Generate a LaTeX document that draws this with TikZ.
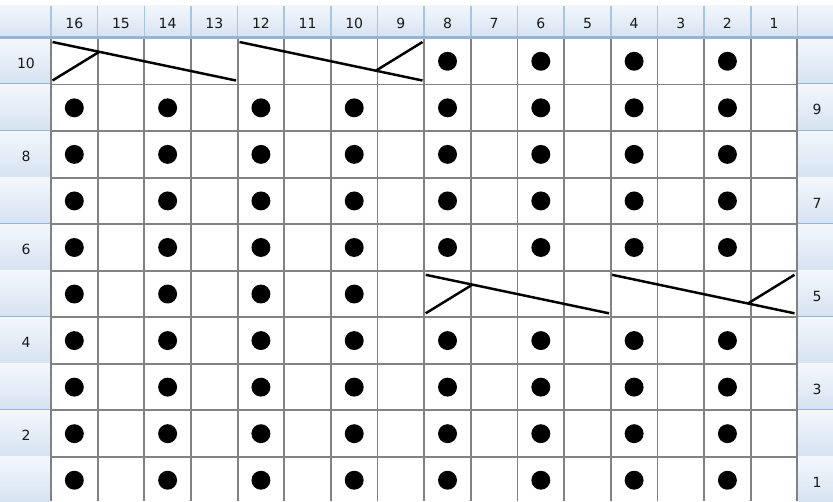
\documentclass[tikz,border=0pt]{standalone}
\usepackage{fontspec}
\setmainfont{DejaVu Sans}
\usetikzlibrary{calc}
\definecolor{gridgray}{HTML}{828282}
\definecolor{hdrtop}{HTML}{F3F7FC}
\definecolor{hdrbot}{HTML}{D6E2F1}
\definecolor{hdrsep}{HTML}{A9C4E2}
\definecolor{hdrline}{HTML}{94B4D8}
\definecolor{lbltext}{HTML}{1A1A1A}
\begin{document}
\begin{tikzpicture}[x=0.75pt,y=-0.75pt,
  gridline/.style={gridgray,line width=1.4pt},
  hdrsepline/.style={hdrsep,line width=1.2pt},
  hdrbottom/.style={hdrline,line width=1.6pt},
  hdrcell/.style={top color=hdrtop,bottom color=hdrbot,draw=none},
  lbl/.style={font=\fontsize{10.5}{12}\selectfont,text=lbltext,inner sep=0pt},
  stitchdot/.style={circle,fill=black,inner sep=0pt,minimum size=14.2pt},
  cable/.style={black,line width=1.85pt}]
\useasboundingbox (0,0) rectangle (833,501);
\def\cw{46.65}
\def\rh{46.55}
% header row
\shade[hdrcell] (0,5) rectangle (833,38);
\foreach \k in {0,...,16}{
  \draw[hdrsepline] ({51+\k*\cw},6) -- ({51+\k*\cw},38);
}
% side header cells
\foreach \r in {0,...,9}{
  \shade[hdrcell] (0,{38+\r*\rh}) rectangle (50,{38+(\r+1)*\rh});
  \shade[hdrcell] (798,{38+\r*\rh}) rectangle (833,{38+(\r+1)*\rh});
  \draw[hdrbottom] (0,{38+(\r+1)*\rh}) -- (50,{38+(\r+1)*\rh});
  \draw[hdrbottom] (798,{38+(\r+1)*\rh}) -- (833,{38+(\r+1)*\rh});
}
\draw[hdrbottom] (0,37.5) -- (833,37.5);
% grid body
\fill[white] (51,38.8) rectangle (797.4,501);
\foreach \k in {0,...,16}{
  \draw[gridline] ({51+\k*\cw},38.8) -- ({51+\k*\cw},501);
}
\foreach \r in {1,...,9}{
  \draw[gridline] (51,{38+\r*\rh}) -- (797.4,{38+\r*\rh});
}
% column labels
\foreach \k [evaluate=\k as \n using int(16-\k)] in {0,...,15}{
  \node[lbl] (col-\n) at ({51+(\k+0.5)*\cw},23.5) {\n};
}
% row labels
\foreach \r [evaluate=\r as \n using int(10-\r)] in {0,2,4,6,8}{
  \node[lbl] (rowl-\n) at (26,{38+(\r+0.5)*\rh+2}) {\n};
}
\foreach \r [evaluate=\r as \n using int(10-\r)] in {1,3,5,7,9}{
  \node[lbl] (rowr-\n) at (817,{38+(\r+0.5)*\rh+2}) {\n};
}
% purl dots
\foreach \r in {0,...,9}{
  \foreach \k in {0,2,...,14}{
    \pgfmathtruncatemacro\myhide{((\r==0) && (\k<8)) || ((\r==5) && (\k>7))}
    \ifnum\myhide=0
      \node[stitchdot] (dot-\r-\k) at ({51+(\k+0.5)*\cw},{38+(\r+0.5)*\rh}) {};
    \fi
  }
}
% cables, row 10
\coordinate (A1) at (52.5,42);
\coordinate (A2) at (236,80.5);
\coordinate (A3) at (52.5,80.5);
\draw[cable] (A1) -- (A2);
\draw[cable] (A3) -- ($(A1)!0.255!(A2)$);
\coordinate (B1) at (239.5,42);
\coordinate (B2) at (422.5,80.5);
\coordinate (B3) at (422.5,42);
\draw[cable] (B1) -- (B2);
\draw[cable] (B3) -- ($(B1)!0.745!(B2)$);
% cables, row 5
\coordinate (C1) at (425.7,274.8);
\coordinate (C2) at (609,313.3);
\coordinate (C3) at (425.7,313.3);
\draw[cable] (C1) -- (C2);
\draw[cable] (C3) -- ($(C1)!0.255!(C2)$);
\coordinate (D1) at (612,274.8);
\coordinate (D2) at (794.5,313.3);
\coordinate (D3) at (794.5,274.8);
\draw[cable] (D1) -- (D2);
\draw[cable] (D3) -- ($(D1)!0.745!(D2)$);
\end{tikzpicture}
\end{document}
